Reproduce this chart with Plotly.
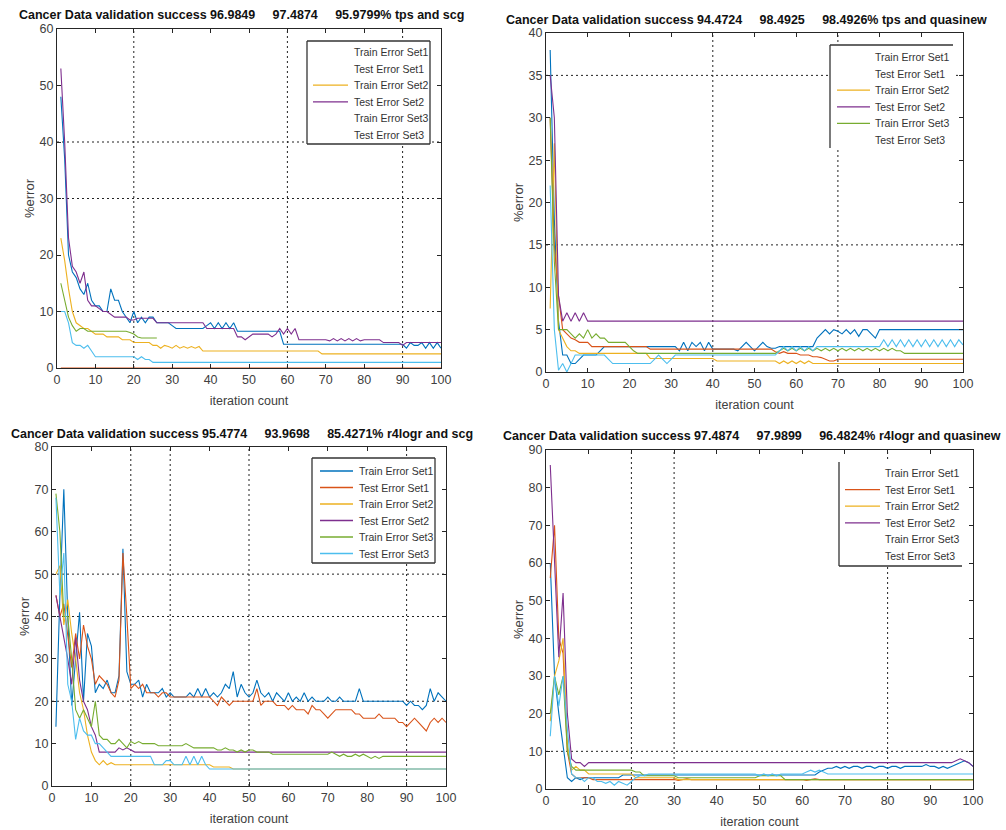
import plotly.graph_objects as go

def run(v, n):
    return [v] * n

iterations = list(range(1, 101))
series_names = ["Train Error Set1", "Test Error Set1", "Train Error Set2",
                "Test Error Set2", "Train Error Set3", "Test Error Set3"]
colors = ["#0072BD", "#D95319", "#EDB120", "#7E2F8E", "#77AC30", "#4DBEEE"]

titles = [
    "Cancer Data validation success 96.9849     97.4874     95.9799% tps and scg",
    "Cancer Data validation success 94.4724     98.4925     98.4926% tps and quasinew",
    "Cancer Data validation success 95.4774     93.9698     85.4271% r4logr and scg",
    "Cancer Data validation success 97.4874     97.9899     96.4824% r4logr and quasinew",
]
y_max = [60, 40, 80, 90]
y_step = [10, 5, 10, 10]
x_ticks = list(range(0, 101, 10))

# ---------------- panel 1 : tps and scg ----------------
p1_train1 = ([48, 37, 20, 17, 16, 14, 13, 15, 12, 11,
              11, 10, 10, 14, 12, 12, 10, 9, 8, 10,
              8, 9, 8, 9, 9, 8, 8, 8, 8, 7.5,
              7, 7, 7, 7, 7, 7, 7, 7, 7.5, 8,
              7, 8, 7, 8, 7, 8, 6.5, 6.5, 6.5, 6.5,
              6.5, 6.5, 6.5, 6.5, 6.5, 6.5, 6.5, 6.5, 4.2, 4.2]
             + run(4.2, 30)
             + [3.5, 4.5, 4, 4, 4.5, 3.5, 4.5, 3.5, 4.5, 3.5])
p1_test1 = run(0, 100)
p1_train2 = ([23, 19, 14, 10, 8, 7.5, 7, 7, 6.5, 6,
              6, 6, 5.5, 5.5, 5.5, 5.5, 5, 5, 5, 4.5,
              4.5, 4.5, 4.5, 4.5, 4, 4, 3.5, 4, 3.8, 3.5,
              4, 3.5, 3.8, 3.5, 3.8, 3.5, 3.8, 3, 3, 3]
             + run(3, 28) + run(2.5, 32))
p1_test2 = ([53, 40, 23, 18, 17, 15, 17, 12, 11, 11,
             10.5, 10, 10, 9.5, 9, 9, 9, 9, 8.5, 8.5,
             8.8, 8.8, 8.8, 8.8, 8.8, 8, 8, 8, 8, 8]
            + run(8, 8) + run(7, 8)
            + [5.5, 5.5, 5, 5.5, 6, 6, 6, 6, 6, 5.5,
               6, 7, 6, 7, 6, 7, 5, 5]
            + run(5, 5)
            + [5, 4.8, 5.2, 4.8, 5.2, 4.8, 5.2, 4.8, 5.2, 4.8, 5, 5, 5, 5, 5]
            + run(4.5, 5) + [4] + run(4.5, 10))
p1_train3 = ([15, 12, 9, 7.5, 6.5, 7, 7, 6.5, 6.5, 6.5,
              6.5, 6.5, 6.5, 6.5, 6.5, 6.5, 6.5, 6.5, 6.3, 6,
              5.5, 5.3, 5.3, 5.3, 5.3, 5.3] + run(None, 74))
p1_test3 = ([10, 10, 8, 4.5, 4, 4, 3.5, 4, 3, 2]
            + run(2, 10)
            + [1.5, 2, 1.5, 1.5] + run(1, 76))

# ---------------- panel 2 : tps and quasinew ----------------
p2_train1 = ([38, 18, 6, 2, 2, 1, 1, 1.5, 2, 2,
              2, 2, 2.5, 3, 3, 3, 3, 3, 3, 3]
             + run(3, 11)
             + [2.5, 3.5, 2.5, 3.5, 3, 3.5, 2.5, 3.5, 2.7]
             + run(2.7, 5)
             + [2.5, 3, 3.5, 3, 2.5, 3, 3.5, 3, 2.8, 2.8]
             + run(3, 9)
             + [4, 4.5, 5, 4.5, 5, 4.8, 4.5, 5, 4.5, 5, 4.2, 5, 5, 4.5, 4]
             + run(5, 21))
p2_test1 = ([30, 15, 9, 5, 4.5, 4, 3.8, 3.5, 3.5, 3.5]
            + run(3, 14) + run(2.7, 30)
            + [2.4, 2.2, 2.4, 2.2, 2.2, 2.2, 2, 2, 2, 1.8, 1.8, 1.7, 1.5, 1.3, 1.3]
            + run(1.5, 31))
p2_train2 = ([7.5, 27, 5, 4, 3, 2.5, 2.5, 2.2, 2.2, 2.2]
             + run(2.2, 14) + run(1.6, 16) + run(1.3, 15)
             + [1.0, 1.3, 1.0, 1.3, 1.0, 1.3, 1.0, 1.3, 1.0, 1.0]
             + run(1.0, 35))
p2_test2 = [35, 30, 9, 6, 7, 6, 7, 6, 7, 6] + run(6, 90)
p2_train3 = ([30, 13, 5, 5, 5, 4.5, 4, 4.5, 4, 5,
              4, 4.5, 4, 4, 3.5, 3.5, 3.5, 3.5, 3.5, 3,
              2.5, 2.2, 2.2, 2.2, 2.2, 2.2, 2.2, 2.2, 2.2, 2.2]
             + run(2.2, 25)
             + [2.5, 2.8, 2.5, 2.8, 2.5, 2.8, 2.5, 2.8, 2.5, 2.8,
                2.5, 2.8, 2.5, 2.8, 2.5, 2.8, 2.5, 2.8, 2.5, 2.8,
                2.5, 2.8, 2.5, 2.8, 2.5, 2.8, 2.5, 2.8, 2.5, 2.5]
             + run(2.2, 15))
p2_test3 = ([22, 5, 0.2, 1, 0, 1, 2, 2, 2, 2,
             2, 2, 2, 2, 1.5, 1, 1, 1, 1, 1,
             1, 1, 1, 1, 1, 1.5, 2, 1.5, 1, 1.5, 2]
            + run(2, 24)
            + [2.5, 3, 2.5, 3, 2.5, 3, 2.5, 3, 2.5, 3]
            + run(3, 15)
            + [3.8, 3, 3.8, 3, 3.8, 3, 3.8, 3, 3.8, 3,
               3.8, 3, 3.8, 3, 3.8, 3, 3.8, 3, 3.8, 3.2])

# ---------------- panel 3 : r4logr and scg ----------------
p3_train1 = [14, 45, 70, 40, 19, 30, 41, 20, 36, 33,
             22, 24, 23, 25, 22, 22, 26, 56, 27, 24,
             24, 25, 21, 24, 22, 22, 22, 23, 21, 22,
             21, 21, 21, 21, 22, 21, 23, 21, 23, 21,
             22, 21, 22, 24, 23, 27, 21, 24, 22, 21,
             22, 25, 22, 21, 22, 20, 22, 21, 20, 22,
             20, 21, 20, 22, 20, 21, 20, 20, 20, 21,
             20, 20, 21, 20, 20, 20, 20, 23, 20, 20,
             20, 20, 20, 20, 20, 20, 20, 20, 20, 19,
             20, 19, 19, 18, 19, 23, 20, 22, 21, 20]
p3_test1 = [45, 40, 43, 35, 28, 36, 30, 38, 33, 30,
            24, 26, 25, 24, 22, 21, 25, 55, 40, 23,
            24, 23, 24, 22, 22, 22, 21, 22, 22, 21,
            21, 21, 21, 21, 21, 21, 21, 21, 21, 21,
            20, 19, 21, 20, 19, 20, 20, 20, 20, 20,
            20, 23, 19, 20, 20, 20, 19, 19, 19, 18,
            19, 18, 18, 18, 17, 19, 18, 18, 17, 16,
            17, 18, 18, 18, 18, 18, 17, 17, 16, 16,
            16, 16, 17, 16, 16, 16, 16, 15, 15, 14,
            15, 16, 15, 14, 13, 15, 16, 15, 16, 15]
p3_train2 = ([50, 52, 38, 44, 36, 30, 22, 18, 12, 8,
              6, 5, 6, 5, 5.5, 5, 5, 5, 5, 5]
             + run(5, 20) + run(4.5, 5) + run(4, 55))
p3_test2 = ([45, 40, 35, 30, 24, 35, 25, 20, 18, 14,
             12, 8, 8, 8, 8, 8, 9, 8.5, 9, 8.5] + run(8, 80))
p3_train3 = [69, 60, 40, 40, 30, 18, 16, 18, 16, 14,
             20, 12, 11, 11, 10, 10, 11, 10, 9, 10.5,
             10, 10.5, 10, 10, 10, 10, 9.5, 9.5, 9.5, 9.5,
             9.5, 9.5, 9.5, 10, 9.5, 9, 9, 9, 9, 9,
             9, 8.5, 8.5, 9, 8.5, 8.5, 8, 8.5, 8, 8.5,
             8.5, 8, 8, 8, 8, 7.5, 7.5, 7.5, 7.5, 7.5,
             7.5, 7.5, 7.5, 7.5, 7.5, 7.5, 7.5, 7.5, 7.5, 7.5,
             8, 7.5, 7, 7.5, 7, 7, 7.5, 7, 7.5, 7,
             6.5, 7, 6.5, 7, 7, 7, 7, 7, 7, 7,
             7, 7, 7, 7, 7, 7, 7, 7, 7, 7]
p3_test3 = ([68, 45, 55, 24, 20, 11, 16, 13, 12, 12,
             10, 10, 9, 8, 7, 7, 7, 7, 7, 7,
             7, 7, 7, 7, 7, 5, 5, 5, 6, 6,
             5, 5, 5, 7, 5, 7, 5, 7, 5, 4] + run(4, 60))

# ---------------- panel 4 : r4logr and quasinew ----------------
p4_train1 = ([60, 30, 20, 12, 3, 2, 3, 2.5, 3, 3]
             + run(3, 7) + run(3.7, 46)
             + [4.5, 5, 5.5, 5.5, 6, 5.5, 6, 5.5, 6, 6, 5.5, 6, 6, 5.5, 6, 6,
                5.5, 6, 6, 5.5, 6, 6, 6, 6, 6, 6.5, 6, 6, 5.5, 6, 5.5, 6]
             + [6.5, 7, 7.5, 7, 6])
p4_test1 = ([56, 70, 40, 36, 10, 4, 3, 3, 3, 3]
            + run(2.5, 20) + [2.3, 2.5, 2.7, 2.5] + run(2.5, 26)
            + [2.3, 2.5, 2.7, 2.5] + run(2.5, 36))
p4_train2 = ([18, 30, 34, 40, 12, 5, 6, 5, 5, 4]
             + run(4, 10) + run(3, 10) + run(2.5, 70))
p4_test2 = ([86, 60, 35, 52, 20, 8, 7, 7, 6, 7]
            + run(7, 84) + [7, 7.5, 8, 7.5, 7, 6])
p4_train3 = ([20, 30, 25, 30, 10, 6, 5, 5, 5, 5]
             + run(5, 10) + [4.5, 4.5] + run(3.5, 8) + run(3, 19)
             + run(3.5, 6) + run(2.5, 45))
p4_test3 = ([14, 30, 22, 30, 16, 4, 3, 3, 2, 3,
             3, 2, 2, 1.5, 2, 1, 2, 1.5, 1, 2, 3, 3.5, 3.5, 4]
            + run(4, 25) + [3.5, 4, 3.5, 4, 3.5, 4] + run(4, 5)
            + [4.5, 5, 4.5, 5, 4.5, 4] + run(4, 34))

panels = [
    [p1_train1, p1_test1, p1_train2, p1_test2, p1_train3, p1_test3],
    [p2_train1, p2_test1, p2_train2, p2_test2, p2_train3, p2_test3],
    [p3_train1, p3_test1, p3_train2, p3_test2, p3_train3, p3_test3],
    [p4_train1, p4_test1, p4_train2, p4_test2, p4_train3, p4_test3],
]
# which legend swatches are visible in each panel of the source image
legend_swatch = [
    [False, False, True, True, False, False],
    [False, False, True, True, True, False],
    [True, True, True, True, True, True],
    [False, True, True, True, False, False],
]
# dotted grid lines that show in the source image
grid_x = [[20, 60, 90], [40, 70], [20, 30, 50, 90], [20, 30, 80]]
grid_y = [[10, 30, 40], [15, 35], [20, 40, 50], [10]]

# ---------------- layout geometry (pixels) ----------------
W, H = 1006, 830
boxes = [(57, 441, 29, 368), (546, 963, 33, 372), (52, 446, 447, 786), (546, 973, 450, 789)]
title_pos = [(241, 15), (746, 20), (242, 434), (752, 436)]
# legend: box (l, r, t, b), visible box sides, swatch x0/x1, text x, first row y, row step
legend_geo = [
    dict(box=(307, 430, 41, 144), sides="tblr", sw=(313, 348), tx=352, y0=52, dy=16.6),
    dict(box=(830, 953, 45, 148), sides="tl", sw=(837, 870), tx=873, y0=57, dy=16.6),
    dict(box=(312, 435, 458, 563), sides="tblr", sw=(320, 353), tx=357, y0=471, dy=16.5),
    dict(box=(839, 962, 462, 566), sides="lb", sw=(845, 880), tx=883, y0=473, dy=16.6),
]

fig = go.Figure()
FONT = "Liberation Sans, Arial, sans-serif"
axis_col = "#262626"

def px(xp):
    return xp / W

def py(yp):
    return 1 - yp / H

layout = dict(width=W, height=H, margin=dict(l=0, r=0, t=0, b=0, autoexpand=False),
              paper_bgcolor="white", plot_bgcolor="white", showlegend=False,
              font=dict(family=FONT, size=11, color="#333333"),
              shapes=[], annotations=[])

for k in range(4):
    xa = "x" if k == 0 else f"x{k+1}"
    ya = "y" if k == 0 else f"y{k+1}"
    for s in range(6):
        fig.add_trace(go.Scatter(x=iterations, y=panels[k][s], mode="lines",
                                 name=series_names[s],
                                 line=dict(color=colors[s], width=1.1),
                                 xaxis=xa, yaxis=ya, showlegend=False,
                                 connectgaps=False, hoverinfo="skip"))
    x0, x1, y0, y1 = boxes[k]
    axn = "" if k == 0 else str(k + 1)
    common = dict(showgrid=False, zeroline=False, showline=True, linecolor=axis_col,
                  linewidth=1, mirror="allticks", ticks="inside", ticklen=4,
                  tickcolor=axis_col, automargin=False,
                  tickfont=dict(family=FONT, size=12.5, color="#404040"))
    layout["xaxis" + axn] = dict(domain=[px(x0), px(x1)], range=[0, 100],
                                 tickvals=x_ticks, anchor=ya,
                                 title=dict(text="iteration count", standoff=10,
                                            font=dict(family=FONT, size=12.5, color="#404040")),
                                 **common)
    layout["yaxis" + axn] = dict(domain=[py(y1), py(y0)], range=[0, y_max[k]],
                                 tickvals=list(range(0, y_max[k] + 1, y_step[k])), anchor=xa,
                                 title=dict(text="%error", standoff=2,
                                            font=dict(family=FONT, size=13, color="#404040")),
                                 **common)
    for gx in grid_x[k]:
        layout["shapes"].append(dict(type="line", xref=xa, yref=ya + " domain", x0=gx, x1=gx,
                                     y0=0, y1=1, layer="below",
                                     line=dict(color="#222222", width=1, dash="2px,3px")))
    for gy in grid_y[k]:
        layout["shapes"].append(dict(type="line", xref=xa + " domain", yref=ya, x0=0, x1=1,
                                     y0=gy, y1=gy, layer="below",
                                     line=dict(color="#222222", width=1, dash="2px,3px")))
    tx, ty = title_pos[k]
    layout["annotations"].append(dict(text="<b>" + titles[k].replace(" ", "\u00a0") + "</b>",
                                      xref="paper", yref="paper", x=px(tx), y=py(ty),
                                      xanchor="center", yanchor="middle", showarrow=False,
                                      font=dict(family=FONT, size=12.5, color="#111111")))
    # legend drawn by hand (box, swatches and labels)
    g = legend_geo[k]
    bl, br, bt, bb = g["box"]
    layout["shapes"].append(dict(type="rect", xref="paper", yref="paper",
                                 x0=px(bl), x1=px(br), y0=py(bb), y1=py(bt),
                                 fillcolor="white", line=dict(width=0), layer="above"))
    side_lines = {"t": (bl, bt, br, bt), "b": (bl, bb, br, bb),
                  "l": (bl, bt, bl, bb), "r": (br, bt, br, bb)}
    for sd in g["sides"]:
        a, b, c, d = side_lines[sd]
        layout["shapes"].append(dict(type="line", xref="paper", yref="paper",
                                     x0=px(a), y0=py(b), x1=px(c), y1=py(d), layer="above",
                                     line=dict(color="#333333", width=1.3)))
    for s in range(6):
        ry = g["y0"] + s * g["dy"]
        if legend_swatch[k][s]:
            layout["shapes"].append(dict(type="line", xref="paper", yref="paper",
                                         x0=px(g["sw"][0]), x1=px(g["sw"][1]),
                                         y0=py(ry), y1=py(ry), layer="above",
                                         line=dict(color=colors[s], width=1.3)))
        layout["annotations"].append(dict(text=series_names[s], xref="paper", yref="paper",
                                          x=px(g["tx"]), y=py(ry), xanchor="left",
                                          yanchor="middle", showarrow=False,
                                          font=dict(family=FONT, size=10.5, color="#333333")))

fig.update_layout(**layout)
fig.write_html("out.html", config={"displayModeBar": False},
               post_script="document.body.style.margin='0px';")
